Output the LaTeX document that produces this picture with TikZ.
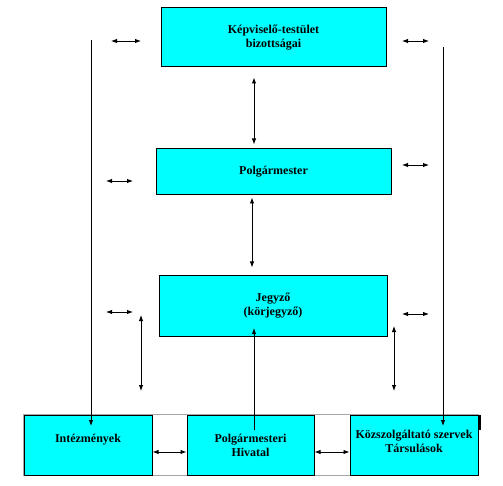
\documentclass[tikz,border=0pt]{standalone}
\usepackage{fontspec}
\setmainfont{Liberation Serif}
\usetikzlibrary{arrows.meta,fit,backgrounds}
\definecolor{boxcyan}{RGB}{0,255,255}

\begin{document}
\begin{tikzpicture}[x=1pt,y=-1pt,
  box/.style={draw,fill=boxcyan,line width=1pt,align=center,inner sep=0pt,
              font=\fontsize{12}{14}\selectfont\bfseries},
  arr/.style={-{Latex[length=6pt,width=4.5pt]},line width=0.9pt},
  darr/.style={{Latex[length=6pt,width=4.5pt]}-{Latex[length=6pt,width=4.5pt]},line width=0.9pt},
  frame/.style={draw=black!35,line width=1pt,inner sep=0pt}
]
\useasboundingbox (0,0) rectangle (503,486);

% Upper boxes
\node[box,minimum width=225pt,minimum height=59pt] (kt) at (273.5,37.5) {Képviselő-testület\\bizottságai};
\node[box,minimum width=235pt,minimum height=46pt] (pm) at (273.5,172) {Polgármester};
\node[box,minimum width=228pt,minimum height=60pt] (jz) at (273,306) {Jegyző\\(körjegyző)};

% Bottom row
\node[box,minimum width=128pt,minimum height=60pt] (int) at (88,445) {Intézmények\\\phantom{I}};
\node[box,minimum width=127pt,minimum height=60pt] (ph) at (250.5,445) {Polgármesteri\\Hivatal};
\node[box,minimum width=128pt,minimum height=60pt] (ksz) at (414,445) {Közszolgáltató szervek\\Társulások\\[-7pt]};

\begin{pgfonlayer}{background}
  \node[frame,fit=(int)(ksz)] (row) {};
\end{pgfonlayer}
\draw[line width=2pt] ([xshift=1pt]ksz.north east) -- ++(0,15);

% Free ends
\coordinate (lt) at (91,40);
\coordinate (lb) at (91,426);
\coordinate (rt) at (443,47);
\coordinate (rb) at (443,426);
\coordinate (phin) at (254,430);
\coordinate (jzin) at (254,328);

% Long lines
\draw[arr] (lt) -- (lb);
\draw[arr] (rt) -- (rb);
\draw[arr] (phin) -- (jzin);

% Vertical double arrows between the upper boxes
\draw[darr] ([xshift=-19.5pt,yshift=-10pt]kt.south) -- ([xshift=-19.5pt,yshift=4pt]pm.north);
\draw[darr] ([xshift=-21.5pt,yshift=-2pt]pm.south) -- ([xshift=-21pt,yshift=8pt]jz.north);

% Bottom double arrows
\draw[darr] ([yshift=-7pt]int.east) -- ([yshift=-7pt]ph.west);
\draw[darr] ([yshift=-7pt]ph.east) -- ([yshift=-7pt]ksz.west);

% Side double arrows
\coordinate (a1) at (111,41);  \coordinate (b1) at (141,41);
\coordinate (a2) at (402,41);  \coordinate (b2) at (429,41);
\coordinate (a3) at (106,181); \coordinate (b3) at (133,181);
\coordinate (a4) at (402,165); \coordinate (b4) at (429,165);
\coordinate (a5) at (106,312); \coordinate (b5) at (133,312);
\coordinate (a6) at (402,314); \coordinate (b6) at (429,314);
\coordinate (a7) at (141,315); \coordinate (b7) at (141,391);
\coordinate (a8) at (394,326); \coordinate (b8) at (394,391);
\foreach \i in {1,...,8}
  \draw[darr] (a\i) -- (b\i);
\end{tikzpicture}
\end{document}
